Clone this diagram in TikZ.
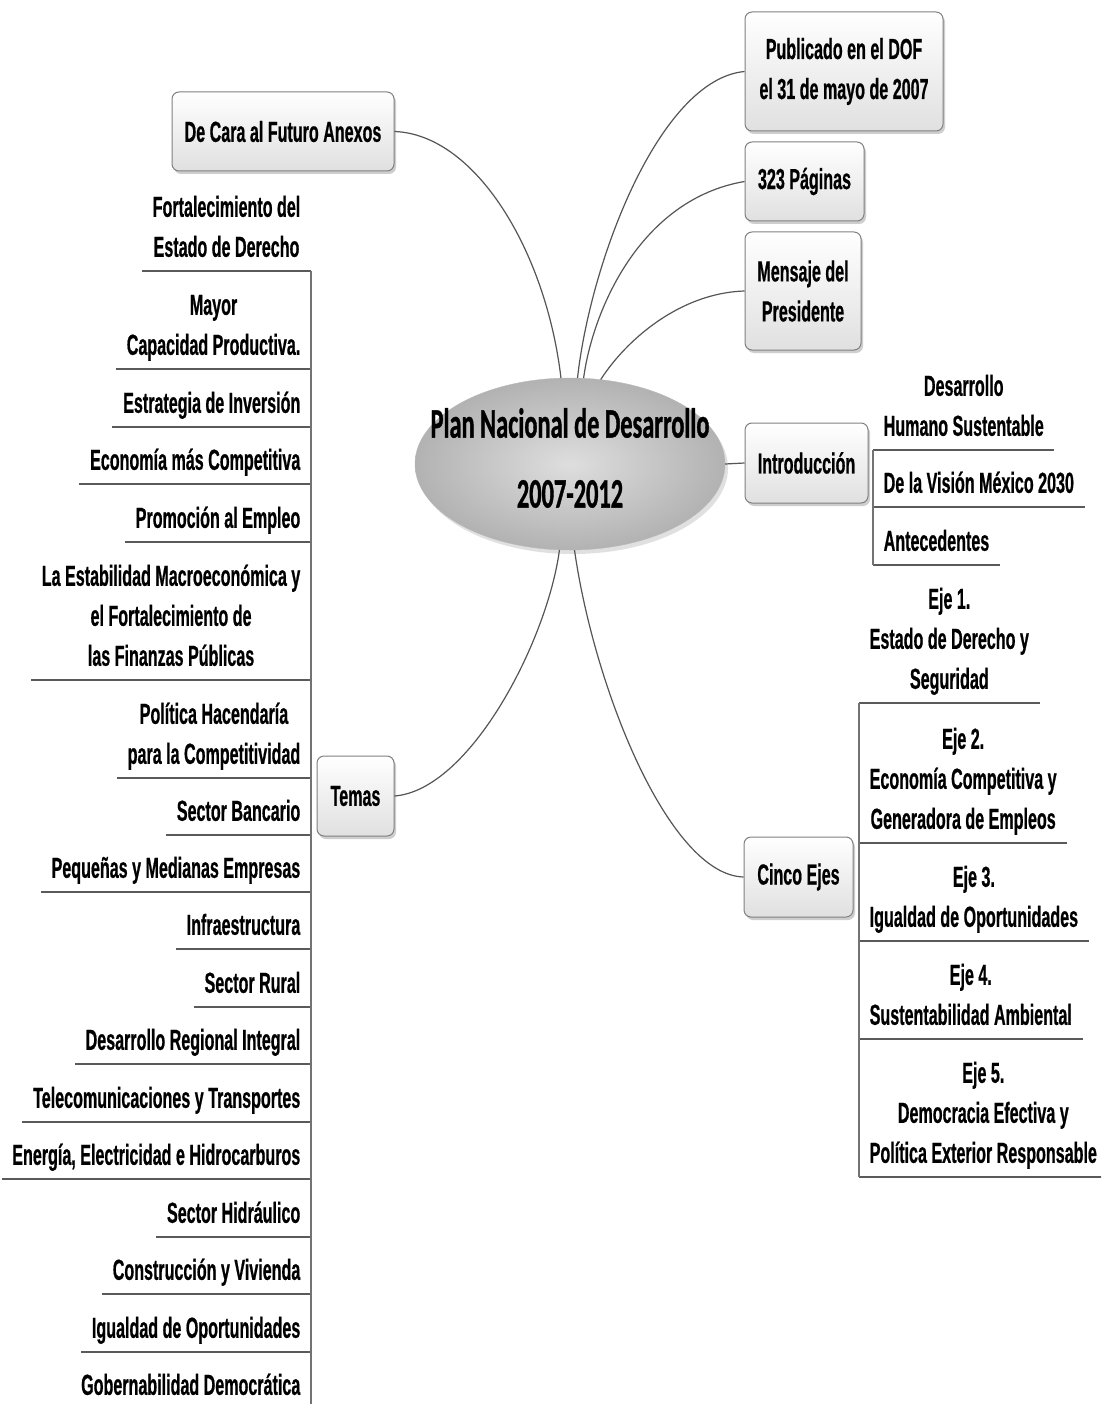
\documentclass[tikz,border=0pt]{standalone}
\usepackage{fontspec}
\usetikzlibrary{shapes.geometric,shadows}
\newfontfamily\narfont[FakeStretch=0.555,FakeBold=0.6]{Liberation Sans Bold}
\newfontfamily\ttlfont[FakeStretch=0.58,FakeBold=0.8]{Carlito Bold}
\newcommand\mmleaf{\narfont\fontsize{29}{40}\selectfont}
\newcommand\mmtitle{\ttlfont\fontsize{42}{70}\selectfont}
\definecolor{boxborder}{RGB}{128,128,128}
\definecolor{boxbottom}{RGB}{224,224,224}
\definecolor{ulgray}{RGB}{90,90,90}
\definecolor{vgray}{RGB}{115,115,115}
\definecolor{linkgray}{RGB}{85,85,85}
\definecolor{ballin}{RGB}{222,222,222}
\definecolor{ballout}{RGB}{178,178,178}
\tikzset{
  topic/.style={draw=boxborder, rounded corners=7pt, top color=white, bottom color=boxbottom,
    line width=1pt, font=\mmleaf, align=center, inner sep=0pt,
    drop shadow={shadow xshift=2pt, shadow yshift=-3pt, opacity=0.35, fill=black!55}},
  leaf/.style={font=\mmleaf, align=center, inner xsep=10.5pt, inner ysep=2pt, execute at end node=\strut},
  leftleaf/.style={leaf, anchor=south east},
  rightleaf/.style={leaf, anchor=south west},
  uline/.style={draw=ulgray, line width=1.6pt},
  vline/.style={draw=vgray, line width=1.3pt},
  link/.style={draw=linkgray, line width=1.2pt},
  ball/.style={ellipse, minimum width=310pt, minimum height=172pt, inner sep=0pt,
    inner color=ballin, outer color=ballout, draw=gray!55,
    drop shadow={shadow xshift=3pt, shadow yshift=-4pt, opacity=0.2, fill=black!60}},
  titletext/.style={font=\mmtitle, align=center, inner sep=0pt}
}
\begin{document}
\begin{tikzpicture}[x=1pt, y=-1pt]
\useasboundingbox (0,0) rectangle (1101,1404);
\fill[white] (0,0) rectangle (1101,1404);
\clip (0,0) rectangle (1101,1404);

% central node
\node[ball] (ctr) at (570,464) {};
\node[titletext] (title) at (570,458) {Plan Nacional de Desarrollo\\2007-2012};

% main topics
\node[topic, minimum width=198pt, minimum height=119pt] (pub) at (844,71.5) {Publicado en el DOF\\el 31 de mayo de 2007};
\node[topic, minimum width=119pt, minimum height=79pt] (pag) at (804.5,181.5) {323 Páginas};
\node[topic, minimum width=116pt, minimum height=118pt] (msg) at (803,291) {Mensaje del\\Presidente};
\node[topic, minimum width=222pt, minimum height=79pt] (anx) at (283,131.5) {De Cara al Futuro Anexos};
\node[topic, minimum width=123pt, minimum height=80pt] (intro) at (806.5,463) {Introducción};
\node[topic, minimum width=77pt, minimum height=80pt] (temas) at (355.5,796) {Temas};
\node[topic, minimum width=109pt, minimum height=80pt] (cinco) at (798.5,877) {Cinco Ejes};

% connectors
\draw[link] (anx.east) .. controls +(81,3) and +(-15,-127) .. (ctr.96.6);
\draw[link] (ctr.85.4) .. controls +(13,-117) and +(-85,8) .. (pub.west);
\draw[link] (ctr.81.5) .. controls +(9,-67) and +(-105,18) .. (pag.west);
\draw[link] (ctr.70.4) .. controls +(25,-39) and +(-65,2) .. (msg.west);
\draw[link] (ctr.east) -- (intro.west);
\draw[link] (ctr.263.4) .. controls +(-12,90) and +(76,-6) .. (temas.east);
\draw[link] (ctr.273.3) .. controls +(20,140) and +(-74,-2) .. (cinco.west);

% Temas subtopics
\node[leftleaf] (l1) at (311,271) {Fortalecimiento del\\Estado de Derecho};
\node[leftleaf] (l2) at (311,369) {Mayor\\Capacidad Productiva.};
\node[leftleaf] (l3) at (311,427) {Estrategia de Inversión};
\node[leftleaf] (l4) at (311,484) {Economía más Competitiva};
\node[leftleaf] (l5) at (311,542) {Promoción al Empleo};
\node[leftleaf] (l6) at (311,680) {La Estabilidad Macroeconómica y\\el Fortalecimiento de\\las Finanzas Públicas};
\node[leftleaf] (l7) at (311,778) {Política Hacendaría\\para la Competitividad};
\node[leftleaf] (l8) at (311,835) {Sector Bancario};
\node[leftleaf] (l9) at (311,892) {Pequeñas y Medianas Empresas};
\node[leftleaf] (l10) at (311,949) {Infraestructura};
\node[leftleaf] (l11) at (311,1007) {Sector Rural};
\node[leftleaf] (l12) at (311,1064) {Desarrollo Regional Integral};
\node[leftleaf] (l13) at (311,1122) {Telecomunicaciones y Transportes};
\node[leftleaf] (l14) at (311,1179) {Energía, Electricidad e Hidrocarburos};
\node[leftleaf] (l15) at (311,1237) {Sector Hidráulico};
\node[leftleaf] (l16) at (311,1294) {Construcción y Vivienda};
\node[leftleaf] (l17) at (311,1352) {Igualdad de Oportunidades};
\node[leftleaf] (l18) at (311,1409) {Gobernabilidad Democrática};
\foreach \i in {1,...,18} \draw[uline] (l\i.south west) -- (l\i.south east);
\draw[vline] (l1.south east) -- (l18.south east);

% Introduccion subtopics
\node[rightleaf] (r1) at (873,450) {Desarrollo\\Humano Sustentable};
\node[rightleaf] (r2) at (873,507) {De la Visión México 2030};
\node[rightleaf] (r3) at (873,565) {Antecedentes};
\foreach \i in {1,2,3} \draw[uline] (r\i.south west) -- (r\i.south east);
\draw[vline] (r1.south west) -- (r3.south west);

% Cinco Ejes subtopics
\node[rightleaf] (e1) at (859,703) {Eje 1.\\Estado de Derecho y\\Seguridad};
\node[rightleaf] (e2) at (859,843) {Eje 2.\\Economía Competitiva y\\Generadora de Empleos};
\node[rightleaf] (e3) at (859,941) {Eje 3.\\Igualdad de Oportunidades};
\node[rightleaf] (e4) at (859,1039) {Eje 4.\\Sustentabilidad Ambiental};
\node[rightleaf] (e5) at (859,1177) {Eje 5.\\Democracia Efectiva y\\Política Exterior Responsable};
\foreach \i in {1,...,5} \draw[uline] (e\i.south west) -- (e\i.south east);
\draw[vline] (e1.south west) -- (e5.south west);
\end{tikzpicture}
\end{document}
